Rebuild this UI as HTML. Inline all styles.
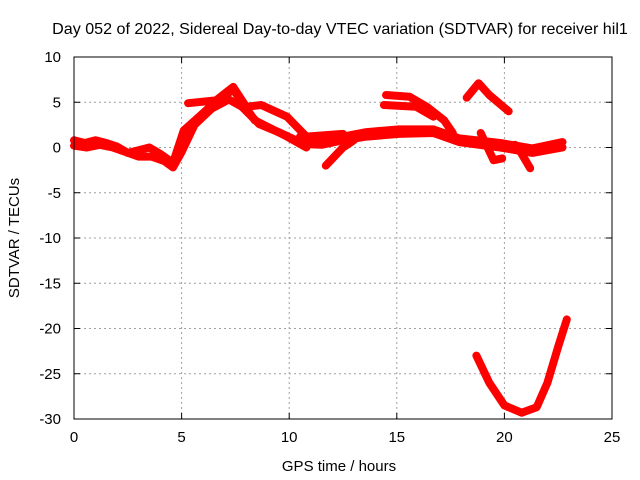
<!DOCTYPE html>
<html><head><meta charset="utf-8"><style>
body{margin:0;background:#fff;}
svg{display:block;font-family:"Liberation Sans",sans-serif;}
</style></head><body>
<svg id="chart" width="640" height="480">
<rect width="640" height="480" fill="#fff"/>
<text x="340" y="34" text-anchor="middle" font-size="16.1">Day 052 of 2022, Sidereal Day-to-day VTEC variation (SDTVAR) for receiver hil1</text>
<text x="339" y="471" text-anchor="middle" font-size="15">GPS time / hours</text>
<text transform="translate(19,238) rotate(-90)" text-anchor="middle" font-size="15">SDTVAR / TECUs</text>
<g id="grid"></g><g id="ticks"></g><g id="series"></g>
<rect x="74" y="57" width="538" height="362" fill="none" stroke="#000" stroke-width="1"/>
</svg>
<script>
const xTicks=[0,5,10,15,20,25];
const yTicks=[10,5,0,-5,-10,-15,-20,-25,-30];
const seriesA_h=[0,0.5,1,1.5,2,2.5,3,3.5,4,4.6,5.1,6,6.5,7.4,8.4,9.9,10.8];
const seriesA_v=[0.8,0.5,0.8,0.5,0.1,-0.6,-0.3,0,-0.7,-1.7,1.9,3.8,4.9,6.4,3,1.2,0];
const seriesA2_h=[0,0.6,1.2,1.8,2.4,3,3.6,4.2,4.6,5,5.6,6.4,7.2,7.8,8.6,9.6,10.5];
const seriesA2_v=[0.2,0,0.3,0,-0.5,-1,-1,-1.5,-2.2,-0.5,2.5,4.3,5.3,4.5,2.6,1.6,0.6];
const seriesB_h=[5.3,6.6,7.4,8,8.7,9.9,10.8,12.5];
const seriesB_v=[4.9,5.2,6.7,4.5,4.7,3.4,1.2,1.5];
const seriesC_h=[10.5,11.5,12.5,13.6,15.1,16.7,17.9,19.8,21.3,22.7];
const seriesC_v=[1.2,0.8,1.2,1.7,2,2,1,0.5,-0.1,0.6];
const seriesC2_h=[10.5,11.5,12.5,13.6,15.1,16.7,17.9,19.8,21.3,22.7];
const seriesC2_v=[0.4,0.3,0.8,1.2,1.5,1.6,0.6,0,-0.6,0];
const seriesD_h=[14.5,15.6,16.4,17.2,17.6];
const seriesD_v=[5.8,5.6,4.5,3,1.6];
const seriesE_h=[14.4,15.9,16.7];
const seriesE_v=[4.7,4.5,3.4];
const seriesF_h=[18.25,18.8,19.3,20.2];
const seriesF_v=[5.5,7.1,5.8,4];
const seriesG_h=[18.9,19.5,19.9];
const seriesG_v=[1.6,-1.4,-1.2];
const seriesH_h=[20.5,20.7,21.2];
const seriesH_v=[0.3,-0.3,-2.3];
const seriesI_h=[11.7,12.5,13];
const seriesI_v=[-2,0,0.8];
const seriesJ_h=[18.7,19.3,20,20.8,21.5,22,22.5,22.9];
const seriesJ_v=[-23,-26,-28.5,-29.3,-28.7,-26,-22,-19];
const NS="http://www.w3.org/2000/svg";
const X=h=>74+h*538/25;
const Y=v=>57+(10-v)*362/40;
const grid=document.getElementById('grid'),ticks=document.getElementById('ticks'),ser=document.getElementById('series');
function mk(t,a,p){const e=document.createElementNS(NS,t);for(const k in a)e.setAttribute(k,a[k]);p.appendChild(e);return e;}
xTicks.forEach(t=>{
 if(t>0&&t<25){const g=mk('line',{x1:X(t),x2:X(t),y1:57,y2:419,stroke:'#a0a0a0','stroke-dasharray':'2,3'},grid);
 
 }
 mk('line',{x1:X(t),x2:X(t),y1:419,y2:413,stroke:'#000'},ticks);
 mk('line',{x1:X(t),x2:X(t),y1:57,y2:63,stroke:'#000'},ticks);
 const l=mk('text',{x:X(t),y:442,'text-anchor':'middle','font-size':'15'},ticks);l.textContent=t;
 
 
});
yTicks.forEach(t=>{
 if(t<10&&t>-30){const g=mk('line',{x1:74,x2:612,y1:Y(t),y2:Y(t),stroke:'#a0a0a0','stroke-dasharray':'2,3'},grid);
 
 }
 mk('line',{x1:74,x2:80,y1:Y(t),y2:Y(t),stroke:'#000'},ticks);
 mk('line',{x1:606,x2:612,y1:Y(t),y2:Y(t),stroke:'#000'},ticks);
 const l=mk('text',{x:61,y:Y(t)+5,'text-anchor':'end','font-size':'15'},ticks);l.textContent=t;
 
 
});
const all=[[seriesA_h,seriesA_v],[seriesA2_h,seriesA2_v],[seriesB_h,seriesB_v],[seriesC_h,seriesC_v],[seriesC2_h,seriesC2_v],[seriesD_h,seriesD_v],[seriesE_h,seriesE_v],[seriesF_h,seriesF_v],[seriesG_h,seriesG_v],[seriesH_h,seriesH_v],[seriesI_h,seriesI_v],[seriesJ_h,seriesJ_v]];
all.forEach(([hs,vs],i)=>{
 const pts=hs.map((h,j)=>X(h).toFixed(1)+','+Y(vs[j]).toFixed(1)).join(' ');
 const p=mk('polyline',{points:pts,fill:'none',stroke:'#ff0000','stroke-width':8,'stroke-linejoin':'round','stroke-linecap':'round'},ser);
 
 
});
</script>
</body></html>
